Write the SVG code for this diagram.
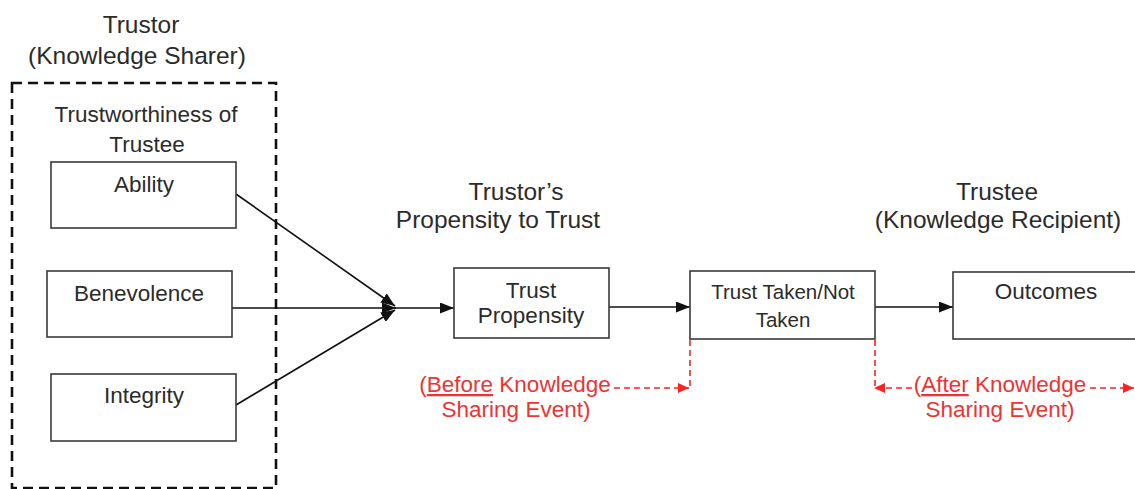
<svg xmlns="http://www.w3.org/2000/svg" width="1135" height="489" viewBox="0 0 1135 489">
<defs>
<marker id="ah" viewBox="0 0 14 11" refX="14" refY="5.5" markerWidth="14" markerHeight="11" markerUnits="userSpaceOnUse" orient="auto"><path d="M0,0 L14,5.5 L0,11 Z" fill="#111"/></marker>
<marker id="rh" viewBox="0 0 11 10" refX="11" refY="5" markerWidth="11" markerHeight="10" markerUnits="userSpaceOnUse" orient="auto"><path d="M0,0 L11,5 L0,10 Z" fill="#f22"/></marker>
</defs>
<style>
text{font-family:"Liberation Sans",Arial,sans-serif;fill:#2b2b2b;text-anchor:middle}
.h{font-size:24.5px}
.t{font-size:22.5px}
.s{font-size:20.5px}
.r{fill:#f03232;font-size:22.5px}
.box{fill:#fff;stroke:#3a3a3a;stroke-width:1.6}
.ln{stroke:#111;stroke-width:1.6;fill:none}
.rd{stroke:#f22;stroke-width:1.6;fill:none;stroke-dasharray:6 4}
</style>
<rect width="1135" height="489" fill="#fff"/>
<g id="trustor-group">
<rect x="12" y="83" width="264" height="405" fill="none" stroke="#111" stroke-width="2.6" stroke-dasharray="10 6"/>
<text class="h" x="141" y="33">Trustor</text>
<text class="h" x="137" y="64">(Knowledge Sharer)</text>
<text class="t" x="146" y="122">Trustworthiness of</text>
<text class="t" x="147" y="152">Trustee</text>
</g>
<g id="connectors">
<line class="ln" x1="236" y1="194" x2="395" y2="306" marker-end="url(#ah)"/>
<line class="ln" x1="232" y1="308" x2="396" y2="308" marker-end="url(#ah)"/>
<line class="ln" x1="236" y1="405" x2="395" y2="310" marker-end="url(#ah)"/>
<line class="ln" x1="395" y1="308" x2="454" y2="308" marker-end="url(#ah)"/>
<line class="ln" x1="609" y1="307" x2="690" y2="307" marker-end="url(#ah)"/>
<line class="ln" x1="875" y1="307" x2="953" y2="307" marker-end="url(#ah)"/>
<polyline class="rd" points="690,340 690,388"/>
<line class="rd" x1="614" y1="388" x2="689" y2="388" marker-end="url(#rh)"/>
<polyline class="rd" points="875,340 875,388"/>
<line class="rd" x1="912" y1="388" x2="874" y2="388" marker-end="url(#rh)"/>
<line class="rd" x1="1090" y1="388" x2="1134" y2="388" marker-end="url(#rh)"/>
</g>
<g id="ability">
<rect class="box" x="51" y="162" width="185" height="66"/>
<text class="t" x="144" y="192">Ability</text>
</g>
<g id="benevolence">
<rect class="box" x="47" y="271" width="185" height="66"/>
<text class="t" x="139" y="301">Benevolence</text>
</g>
<g id="integrity">
<rect class="box" x="51" y="374" width="185" height="67"/>
<text class="t" x="144" y="403">Integrity</text>
</g>
<g id="propensity-header">
<text class="h" x="516" y="200">Trustor’s</text>
<text class="h" x="498" y="228">Propensity to Trust</text>
</g>
<g id="trust-propensity">
<rect class="box" x="454" y="268" width="155" height="70"/>
<text class="t" x="531" y="298">Trust</text>
<text class="t" x="531" y="323">Propensity</text>
</g>
<g id="trust-taken">
<rect class="box" x="690" y="271" width="185" height="68"/>
<text class="s" x="783" y="299">Trust Taken/Not</text>
<text class="s" x="783" y="327">Taken</text>
</g>
<g id="trustee-header">
<text class="h" x="997" y="200">Trustee</text>
<text class="h" x="998" y="228">(Knowledge Recipient)</text>
</g>
<g id="outcomes">
<rect class="box" x="953" y="272" width="190" height="67"/>
<text class="t" x="1046" y="299">Outcomes</text>
</g>
<g id="before-label">
<text class="r" x="515" y="392">(<tspan text-decoration="underline">Before</tspan> Knowledge</text>
<text class="r" x="516" y="417">Sharing Event)</text>
</g>
<g id="after-label">
<text class="r" x="1000" y="392">(<tspan text-decoration="underline">After</tspan> Knowledge</text>
<text class="r" x="1000" y="417">Sharing Event)</text>
</g>
</svg>
